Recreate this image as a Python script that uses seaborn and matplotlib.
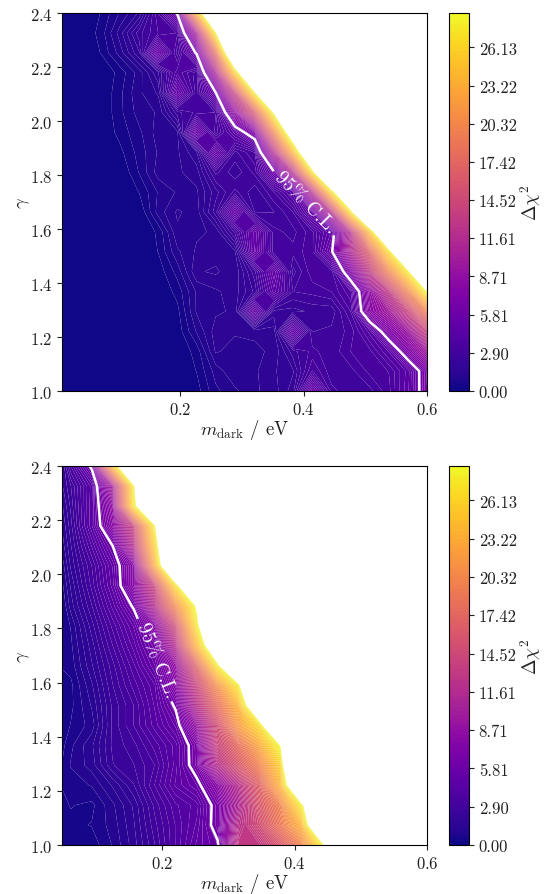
import matplotlib
matplotlib.use('Agg')

import matplotlib.pyplot as plt
import seaborn as sns
import numpy as np

# LEVELS
max_chi2 = 28.74
cl_95 = 5.99
gamma_vals = [1.0, 1.074, 1.147, 1.221, 1.295, 1.368, 1.442, 1.516, 1.589, 1.663,
              1.737, 1.811, 1.884, 1.958, 2.032, 2.105, 2.179, 2.253, 2.326, 2.4]

# UPPER PANEL #
m_top = [0.01, 0.041, 0.072, 0.103, 0.134, 0.165, 0.196, 0.227, 0.258, 0.289,
         0.321, 0.352, 0.383, 0.414, 0.445, 0.476, 0.507, 0.538, 0.569, 0.6]
chi2_top = [
    [0, 0, 0, 0, 0, 0, 0, .15, .8, 1.1, 1.4, 1.6, 2.2, 5.8, 3.0, 2.7, 2.8, 3.4, 4.6, 7.0],
    [0, 0, 0, 0, 0, 0, 0, .3, 1.0, 1.4, 1.4, 1.7, 2.0, 3.5, 2.7, 2.8, 3.3, 3.5, 4.5, 7.1],
    [0, 0, 0, 0, 0, 0, .05, .4, 1.5, 1.3, 1.4, 1.5, 2.5, 3.0, 2.7, 3.2, 3.4, 4.4, 7.2, 10],
    [0, 0, 0, 0, 0, 0, .1, .9, 1.6, 1.5, 1.5, 1.6, 5.5, 2.6, 2.7, 3.0, 4.2, 7.3, 9.5, 14],
    [0, 0, 0, 0, 0, 0, .2, 1.2, 1.4, 1.5, 5.5, 2.2, 2.2, 2.4, 2.4, 3.5, 8, 10, 14, 20],
    [0, 0, 0, 0, 0, 0, .4, 1.2, 1.4, 1.6, 2.4, 4.8, 2.9, 3.0, 3.2, 4.0, 8.5, 13, 20, 29],
    [0, 0, 0, 0, 0, .1, .7, 1.7, 1.8, 1.5, 2.8, 5.5, 2.5, 3.4, 3.3, 7.6, 13, 20, 28, 48],
    [0, 0, 0, 0, 0, .3, 1.1, 1.5, 1.6, 1.7, 5.6, 3, 3, 3.4, 5.8, 11, 17, 27, 45, 99],
    [0, 0, 0, 0, 0, .35, 1.4, 1.4, 1.5, 3.0, 5.4, 3, 2.8, 3.4, 5.0, 12, 25, 44, 99, 99],
    [0, 0, 0, 0, 0, 1.0, 1.5, 1.3, 2.5, 5.6, 2.6, 2.6, 3.2, 5.6, 12, 27.5, 48, 99, 99, 99],
    [0, 0, 0, 0, .3, .9, 1.2, 1.4, 2.2, 3.0, 2.4, 3.2, 4.6, 12, 27, 40, 99, 99, 99, 99],
    [0, 0, 0, 0, .6, 1.3, 1.4, 1.6, 3.0, 2.4, 3, 5.9, 12, 27.5, 45, 99, 99, 99, 99, 99],
    [0, 0, 0, .2, .7, 1.2, 1.4, 2.0, 5.6, 2.8, 3.5, 11.5, 24, 39, 99, 99, 99, 99, 99, 99],
    [0, 0, 0, .4, .8, 1.3, 1.4, 5.8, 3, 4.8, 7.3, 20, 34, 99, 99, 99, 99, 99, 99, 99],
    [0, 0, 0, .5, 1.0, 1.2, 2.5, 3, 3.2, 8.9, 16, 29.5, 45, 99, 99, 99, 99, 99, 99, 99],
    [0, 0, 0, .5, 1.1, 1.5, 5.5, 3, 6, 14, 28.5, 45, 99, 99, 99, 99, 99, 99, 99, 99],
    [0, 0, 0, .4, 1.0, 2, 4, 3, 10.7, 26, 41.6, 99, 99, 99, 99, 99, 99, 99, 99, 99],
    [0, 0, .3, 1.0, 2.0, 5.8, 3, 6.2, 18, 40, 99, 99, 99, 99, 99, 99, 99, 99, 99, 99],
    [0, 0, .4, 1.3, 2.5, 3.2, 3.5, 10.6, 28.5, 45, 99, 99, 99, 99, 99, 99, 99, 99, 99, 99],
    [0, 0, .3, .9, 1.5, 3.5, 6.2, 24, 42, 99, 99, 99, 99, 99, 99, 99, 99, 99, 99, 99],
]

# LOWER PANEL #
m_bottom = [0.05, 0.0628, 0.0944, 0.126, 0.1576, 0.1892, 0.2208, 0.2524, 0.284, 0.3156,
            0.3472, 0.3788, 0.4104, 0.442, 0.4736, 0.5052, 0.5368, 0.5684, 0.6]
chi2_bottom = [
    [.4, .4, .4, .9, 1.6, 2.6, 3.8, 5.0, 5.8, 13, 13, 16, 20, 28, 45, 99, 99, 99, 99],
    [.4, .5, .6, 1.0, 1.7, 2.8, 3.8, 4.7, 6.6, 12, 15, 19, 24, 40, 99, 99, 99, 99, 99],
    [.5, .6, .5, 1.1, 1.8, 3.0, 4.0, 4.5, 6.6, 11, 16, 20, 28, 38, 99, 99, 99, 99, 99],
    [.6, .7, .9, 1.5, 2.3, 3.5, 4.7, 5.5, 8.1, 12, 17, 24, 40, 99, 99, 99, 99, 99, 99],
    [.6, .9, 1.3, 2.3, 2.6, 3.2, 4.5, 6.8, 12, 16, 20, 26, 50, 99, 99, 99, 99, 99, 99],
    [.5, .8, 1.4, 2.4, 2.8, 3.6, 4.5, 6.9, 14, 18, 23, 29, 48, 99, 99, 99, 99, 99, 99],
    [.4, .6, 1.0, 2.4, 3.2, 4.2, 5.3, 9.1, 15, 22, 27, 40, 99, 99, 99, 99, 99, 99, 99],
    [.4, .5, 1.2, 2.4, 3.2, 4.4, 6.2, 12, 18, 24, 37, 99, 99, 99, 99, 99, 99, 99, 99],
    [.5, .5, 1.4, 2.6, 3.6, 4.6, 7.7, 14, 21, 28, 45, 99, 99, 99, 99, 99, 99, 99, 99],
    [.6, .7, 1.7, 2.8, 4.0, 5.5, 9, 17, 28, 40, 99, 99, 99, 99, 99, 99, 99, 99, 99],
    [.7, .8, 1.9, 3.2, 4.5, 6.3, 12, 24, 36, 99, 99, 99, 99, 99, 99, 99, 99, 99, 99],
    [.6, .9, 2.2, 3.6, 5, 8, 15, 27.5, 42, 99, 99, 99, 99, 99, 99, 99, 99, 99, 99],
    [.6, 1.3, 2.6, 4.2, 6.2, 12, 20.5, 29.5, 48, 99, 99, 99, 99, 99, 99, 99, 99, 99, 99],
    [.8, 1.5, 3, 4.8, 8, 14, 27, 42, 99, 99, 99, 99, 99, 99, 99, 99, 99, 99, 99],
    [1.0, 1.8, 3.2, 5, 8, 23, 43, 99, 99, 99, 99, 99, 99, 99, 99, 99, 99, 99, 99],
    [1.3, 2.0, 3.8, 6.0, 12, 26, 45, 99, 99, 99, 99, 99, 99, 99, 99, 99, 99, 99, 99],
    [1.5, 2.2, 4.6, 8, 14, 28.5, 50, 99, 99, 99, 99, 99, 99, 99, 99, 99, 99, 99, 99],
    [1.7, 2.4, 4.6, 8.8, 27.5, 40, 99, 99, 99, 99, 99, 99, 99, 99, 99, 99, 99, 99, 99],
    [2.0, 2.6, 4.5, 10.5, 28.3, 50, 99, 99, 99, 99, 99, 99, 99, 99, 99, 99, 99, 99, 99],
    [2.0, 3.5, 6.3, 25, 42, 99, 99, 99, 99, 99, 99, 99, 99, 99, 99, 99, 99, 99, 99],
]

x_ticks = [0.2, 0.4, 0.6]
y_ticks = [1.0, 1.2, 1.4, 1.6, 1.8, 2.0, 2.2, 2.4]


def create_contour(fig, pos, cax_pos, m_vals, chi2, label_pos):
    ax = fig.add_axes(pos)
    cax = fig.add_axes(cax_pos)
    levels = np.linspace(0, max_chi2, 100)

    filled = ax.contourf(m_vals, gamma_vals, np.array(chi2), levels=levels,
                         cmap=sns.color_palette('plasma', as_cmap=True), antialiased=True)
    line = ax.contour(m_vals, gamma_vals, np.array(chi2), levels=[cl_95],
                      colors='white', linewidths=1.8)
    ax.clabel(line, fmt={cl_95: '95% C.L.'}, manual=[label_pos], fontsize=14, inline=True)

    ax.set_xlim(m_vals[0], 0.6)
    ax.set_ylim(1.0, 2.4)
    ax.set_xticks(x_ticks)
    ax.set_yticks(y_ticks)
    ax.set_xlabel(r'$m_\mathrm{dark}$ / eV', fontsize=13.5, labelpad=0)
    ax.set_ylabel(r'$\gamma$', fontsize=13.5, labelpad=-1.5)

    cbar = fig.colorbar(filled, cax=cax, ticks=levels[::10], format='%.2f')
    cbar.set_label(r'$\Delta\chi^2$', fontsize=13.5, labelpad=1)


sns.set_theme(style='ticks', rc={
    'axes.edgecolor': 'black',
    'text.color': '#222222',
    'axes.labelcolor': '#222222',
    'xtick.color': '#222222',
    'ytick.color': '#222222',
    'xtick.labelsize': 12,
    'ytick.labelsize': 12,
    'axes.linewidth': 0.8,
    'xtick.major.width': 0.8,
    'ytick.major.width': 0.8,
    'xtick.major.size': 3.5,
    'ytick.major.size': 3.5,
    'axes.formatter.use_mathtext': True,
    'mathtext.fontset': 'cm',
})
plt.rcParams['font.family'] = ['cmr10', 'DejaVu Serif']

fig = plt.figure(figsize=(5.49, 8.95), dpi=100)

create_contour(fig, [0.1135, 0.562, 0.665, 0.4223], [0.8187, 0.562, 0.0355, 0.4223],
               m_top, chi2_top, (0.392, 1.678))
create_contour(fig, [0.1135, 0.0547, 0.665, 0.4235], [0.8187, 0.0547, 0.0355, 0.4235],
               m_bottom, chi2_bottom, (0.182, 1.68))

plt.savefig('out.png', dpi=100)
